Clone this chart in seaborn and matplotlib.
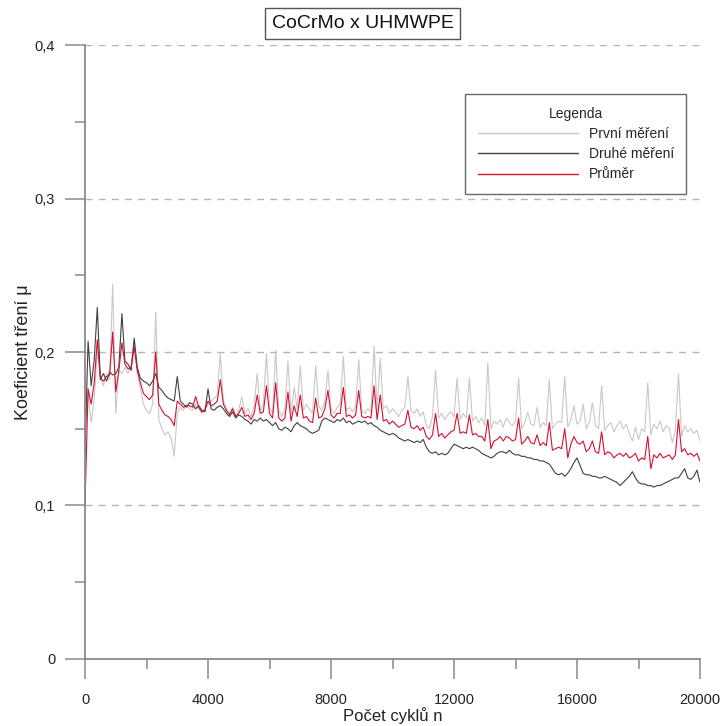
import numpy as np
import pandas as pd
import matplotlib.pyplot as plt
import seaborn as sns
from matplotlib.ticker import MultipleLocator, FuncFormatter

# počet cyklů po 100
cykly = list(range(0, 20001, 100))

# koeficient tření x1000 (po 1000 cyklech na řádek)
prvni = [
    150, 172, 154, 170, 200, 184, 178, 186, 182, 244,
    160, 188, 186, 190, 186, 192, 208, 186, 176, 166,
    162, 160, 166, 226, 156, 150, 146, 148, 144, 132,
    160, 164, 162, 166, 163, 162, 166, 163, 160, 164,
    165, 168, 170, 172, 199, 168, 163, 160, 164, 158,
    162, 171, 160, 163, 158, 165, 186, 162, 166, 199,
    164, 160, 201, 162, 158, 163, 194, 160, 177, 163,
    191, 162, 166, 163, 160, 191, 165, 162, 168, 188,
    163, 160, 164, 166, 197, 162, 164, 161, 165, 195,
    162, 160, 163, 161, 204, 162, 196, 163, 165, 160,
    163, 161, 158, 162, 164, 184, 162, 160, 163, 158,
    161, 152, 150, 158, 188, 157, 160, 156, 159, 161,
    158, 183, 156, 160, 157, 183, 155, 158, 154, 157,
    152, 193, 150, 155, 153, 156, 151, 157, 154, 152,
    155, 183, 150, 154, 161, 153, 152, 164, 151, 154,
    152, 182, 150, 153, 155, 154, 184, 151, 156, 165,
    153, 155, 166, 150, 154, 167, 152, 150, 178, 149,
    152, 154, 148, 152, 155, 150, 153, 147, 142, 151,
    143, 150, 148, 180, 146, 153, 150, 155, 148, 152,
    150, 141, 149, 186, 145, 152, 148, 150, 147, 149,
    142,
]
druhe = [
    135, 207, 178, 195, 229, 182, 186, 181, 187, 185,
    186, 190, 225, 194, 192, 188, 209, 190, 183, 181,
    180, 178, 181, 186, 177, 175, 172, 170, 169, 168,
    184, 168, 166, 164, 167, 166, 163, 165, 162, 161,
    176, 163, 162, 164, 165, 163, 160, 158, 161, 157,
    159, 158, 156, 155, 153, 156, 155, 157, 155, 156,
    154, 152, 154, 150, 149, 151, 150, 148, 152, 154,
    152, 151, 150, 148, 147, 148, 149, 155, 157, 156,
    155, 154, 156, 155, 157, 154, 155, 153, 154, 155,
    154, 155, 153, 154, 152, 151, 149, 148, 147, 146,
    147, 146, 144, 143, 142, 143, 142, 141, 142, 141,
    143, 138, 135, 134, 135, 133, 134, 133, 134, 137,
    140, 139, 138, 137, 138, 137, 138, 137, 136, 134,
    133, 132, 131, 132, 134, 135, 135, 134, 136, 134,
    133, 133, 132, 132, 131, 131, 130, 130, 129, 129,
    128, 127, 124, 121, 120, 121, 119, 121, 124, 128,
    131, 126, 121, 120, 120, 119, 119, 118, 118, 119,
    118, 117, 116, 115, 113, 115, 117, 119, 122, 118,
    115, 114, 114, 113, 113, 112, 113, 113, 114, 115,
    116, 117, 118, 118, 121, 124, 118, 117, 119, 123,
    115,
]
prumer = [
    100, 176, 166, 180, 208, 183, 181, 184, 185, 213,
    174, 188, 206, 192, 189, 190, 203, 188, 180, 173,
    171, 169, 172, 200, 166, 162, 159, 158, 156, 152,
    168, 166, 164, 165, 165, 164, 171, 164, 161, 162,
    168, 165, 166, 168, 182, 166, 162, 159, 163, 158,
    160, 164, 158, 159, 156, 160, 172, 160, 161, 178,
    160, 157, 180, 157, 155, 157, 174, 155, 165, 158,
    172, 157, 158, 155, 154, 170, 157, 158, 163, 175,
    159, 157, 160, 160, 177, 158, 159, 157, 159, 175,
    158, 157, 158, 157, 178, 156, 172, 155, 156, 153,
    155, 153, 151, 152, 153, 162, 151, 150, 152, 149,
    151, 145, 143, 146, 160, 145, 147, 144, 146, 148,
    149, 160, 147, 148, 147, 159, 146, 147, 145, 145,
    142, 156, 137, 142, 143, 145, 142, 145, 144, 142,
    143, 157, 140, 142, 145, 141, 140, 146, 139, 141,
    139, 154, 136, 137, 138, 137, 150, 131, 140, 145,
    141, 140, 142, 135, 137, 142, 135, 134, 148, 133,
    135, 134, 131, 133, 134, 132, 134, 131, 132, 134,
    129, 131, 130, 145, 124, 133, 131, 134, 131, 132,
    133, 130, 133, 156, 135, 137, 133, 134, 132, 134,
    129,
]

nazvy = ['První měření', 'Druhé měření', 'Průměr']
barvy = {'První měření': '#c8c8c8', 'Druhé měření': '#404040', 'Průměr': '#d7102e'}

df = pd.DataFrame({
    'cykly': cykly * 3,
    'mu': np.array(prvni + druhe + prumer) / 1000,
    'serie': [nazvy[0]] * len(prvni) + [nazvy[1]] * len(druhe) + [nazvy[2]] * len(prumer),
})

sns.set_style("white")
plt.rcParams['font.family'] = ['Liberation Sans', 'DejaVu Sans']

fig = plt.figure(figsize=(7.21, 7.26), dpi=100)
ax = fig.add_axes([0.1179, 0.0923, 0.853, 0.8457])

sns.lineplot(data=df, x='cykly', y='mu', hue='serie', hue_order=nazvy,
             palette=barvy, linewidth=0.8, estimator=None, ax=ax)

ax.set_xlim(0, 20000)
ax.set_ylim(0, 0.4)

# osy
for s in ['top', 'right']:
    ax.spines[s].set_visible(False)
for s in ['left', 'bottom']:
    ax.spines[s].set_color('#8a8a8a')
    ax.spines[s].set_linewidth(1.3)

ax.xaxis.set_major_locator(MultipleLocator(4000))
ax.xaxis.set_minor_locator(MultipleLocator(2000))
ax.yaxis.set_major_locator(MultipleLocator(0.1))
ax.yaxis.set_minor_locator(MultipleLocator(0.05))
ax.yaxis.set_major_formatter(FuncFormatter(lambda v, p: '0' if abs(v) < 1e-9 else f'{v:.1f}'.replace('.', ',')))

ax.tick_params(which='major', direction='out', length=14.5, width=1.1, color='#8a8a8a',
               labelsize=10.5, labelcolor='#222222', pad=7)
ax.tick_params(axis='x', which='major', pad=10)
ax.tick_params(which='minor', direction='out', length=7, width=1.1, color='#8a8a8a')
ax.tick_params(axis='x', bottom=True, which='both')
ax.tick_params(axis='y', left=True, which='both')

ax.grid(axis='y', which='major', color='#b4b4b4', linestyle=(0, (5, 4.5)), linewidth=1.0)
ax.set_axisbelow(True)

ax.set_xlabel('Počet cyklů n', fontsize=12, color='#222222', labelpad=0)
ax.set_ylabel('Koeficient tření μ', fontsize=13, color='#222222', labelpad=2)

# titulek v rámečku
fig.text(0.503, 0.968, 'CoCrMo x UHMWPE', ha='center', va='center', fontsize=14, color='#111111',
         bbox=dict(boxstyle='square,pad=0.35', facecolor='white', edgecolor='#555555', linewidth=1))

handles, labels = ax.get_legend_handles_labels()
leg = ax.legend(handles, labels, title='Legenda', loc='upper right', bbox_to_anchor=(0.978, 0.92),
                fontsize=10, title_fontsize=10, frameon=True, fancybox=False,
                handlelength=7.2, handletextpad=0.8, borderpad=0.9, labelspacing=0.45,
                borderaxespad=0)
leg.get_frame().set_edgecolor('#444444')
leg.get_frame().set_linewidth(1.0)
for line in leg.get_lines():
    line.set_linewidth(1.0)

plt.savefig('out.png', dpi=100)
